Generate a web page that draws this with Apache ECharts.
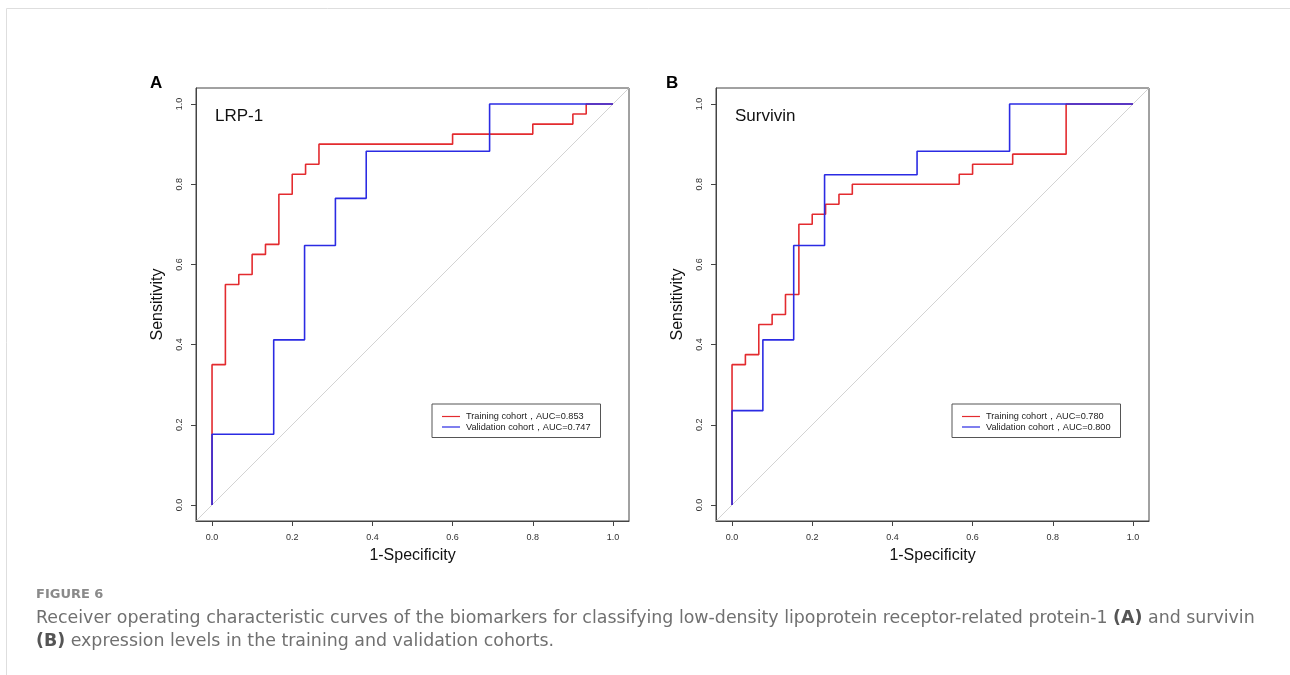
<!DOCTYPE html>
<html>
<head>
<meta charset="utf-8">
<title>Figure 6 ROC curves</title>
<script src="https://cdn.jsdelivr.net/npm/echarts@6/dist/echarts.min.js"></script>
<style>
  html, body { margin: 0; padding: 0; background: #fff; }
  #chart { width: 1290px; height: 675px; }
</style>
</head>
<body>
<div id="chart"></div>
<script>
// ROC points (1-specificity, sensitivity)
const lrpTrainFpr = [0, 0, 0.0333, 0.0667, 0.1, 0.1333, 0.1667, 0.2, 0.2333, 0.2667, 0.6, 0.8, 0.9, 0.9333, 1];
const lrpTrainTpr = [0, 0.35, 0.55, 0.575, 0.625, 0.65, 0.775, 0.825, 0.85, 0.9, 0.925, 0.95, 0.975, 1, 1];
const lrpValidFpr = [0, 0, 0.1538, 0.2308, 0.3077, 0.3846, 0.6923, 1];
const lrpValidTpr = [0, 0.1765, 0.4118, 0.6471, 0.7647, 0.8824, 1, 1];

const survTrainFpr = [0, 0, 0.0333, 0.0667, 0.1, 0.1333, 0.1667, 0.2, 0.2333, 0.2667, 0.3, 0.5667, 0.6, 0.7, 0.8333, 1];
const survTrainTpr = [0, 0.35, 0.375, 0.45, 0.475, 0.525, 0.7, 0.725, 0.75, 0.775, 0.8, 0.825, 0.85, 0.875, 1, 1];
const survValidFpr = [0, 0, 0.0769, 0.1538, 0.2308, 0.4615, 0.6923, 1];
const survValidTpr = [0, 0.2353, 0.4118, 0.6471, 0.8235, 0.8824, 1, 1];

const panelTitles = ['LRP-1', 'Survivin'];
const panelLetters = ['A', 'B'];
const trainNames = ['Training cohort，AUC=0.853', 'Training cohort，AUC=0.780'];
const validNames = ['Validation cohort，AUC=0.747', 'Validation cohort，AUC=0.800'];
const tickValues = [0, 0.2, 0.4, 0.6, 0.8, 1.0];
const axisRange = [-0.04, 1.04];

const RED = '#e32b2f';
const BLUE = '#2b2be3';
const FONT = 'Liberation Sans, Arial, sans-serif';
const CAPTION_FONT = 'DejaVu Sans, Open Sans, sans-serif';

function pairs(xs, ys) {
  return xs.map((x, i) => [x, ys[i]]);
}

const chart = echarts.init(document.getElementById('chart'));

const grids = [
  { left: 196, top: 88, width: 433, height: 433 },
  { left: 716, top: 88, width: 433, height: 433 }
];

function xAxisFor(i) {
  return {
    type: 'value', gridIndex: i, min: axisRange[0], max: axisRange[1],
    name: '1-Specificity', nameLocation: 'middle', nameGap: 27,
    nameTextStyle: { fontFamily: FONT, fontSize: 16, color: '#111' },
    axisLine: { show: true, onZero: false, lineStyle: { color: '#444', width: 1 } },
    axisTick: { show: true, inside: false, length: 5, customValues: tickValues, lineStyle: { color: '#444' } },
    axisLabel: { customValues: tickValues, margin: 12, fontFamily: FONT, fontSize: 9, color: '#333',
      formatter: v => v.toFixed(1) },
    splitLine: { show: false }
  };
}

function yAxisFor(i) {
  return {
    type: 'value', gridIndex: i, min: axisRange[0], max: axisRange[1],
    name: 'Sensitivity', nameLocation: 'middle', nameGap: 30, nameRotate: 90,
    nameTextStyle: { fontFamily: FONT, fontSize: 16, color: '#111' },
    axisLine: { show: true, onZero: false, lineStyle: { color: '#444', width: 1 } },
    axisTick: { show: true, inside: false, length: 5, customValues: tickValues, lineStyle: { color: '#444' } },
    axisLabel: { customValues: tickValues, margin: 12, rotate: 90, fontFamily: FONT, fontSize: 9, color: '#333',
      formatter: v => v.toFixed(1) },
    splitLine: { show: false }
  };
}

function curve(name, i, xs, ys, color) {
  return {
    name: name, type: 'line', xAxisIndex: i, yAxisIndex: i,
    data: pairs(xs, ys), step: 'end', symbol: 'none', animation: false,
    lineStyle: { color: color, width: 1.6 }, itemStyle: { color: color }
  };
}

function diagonal(i) {
  return {
    type: 'line', xAxisIndex: i, yAxisIndex: i, symbol: 'none', silent: true,
    data: pairs(axisRange, axisRange), animation: false,
    lineStyle: { color: '#c8c8c8', width: 0.8 }, z: 1
  };
}

function legendFor(i) {
  return {
    left: grids[i].left + 236, top: 404,
    orient: 'vertical', itemGap: 1.5, itemWidth: 18, itemHeight: 1.2,
    icon: 'rect',
    padding: [8, 10, 6, 10],
    borderColor: '#555', borderWidth: 1, borderRadius: 0,
    data: [trainNames[i], validNames[i]],
    textStyle: { fontFamily: FONT, fontSize: 9.2, color: '#222', padding: [0, 0, 0, 1] }
  };
}

const option = {
  backgroundColor: '#fff',
  animation: false,
  grid: grids.map(g => Object.assign({ show: true, borderColor: '#444', borderWidth: 1, containLabel: false }, g)),
  xAxis: [xAxisFor(0), xAxisFor(1)],
  yAxis: [yAxisFor(0), yAxisFor(1)],
  title: panelTitles.map((t, i) => ({
    text: t, left: grids[i].left + 14, top: 103,
    textStyle: { fontFamily: FONT, fontSize: 17, fontWeight: 'normal', color: '#111' }
  })),
  legend: [legendFor(0), legendFor(1)],
  series: [
    diagonal(0), diagonal(1),
    curve(trainNames[0], 0, lrpTrainFpr, lrpTrainTpr, RED),
    curve(validNames[0], 0, lrpValidFpr, lrpValidTpr, BLUE),
    curve(trainNames[1], 1, survTrainFpr, survTrainTpr, RED),
    curve(validNames[1], 1, survValidFpr, survValidTpr, BLUE)
  ],
  graphic: [
    { type: 'rect', shape: { x: 6.5, y: 8.5, width: 1300, height: 700 },
      style: { fill: 'none', stroke: '#dedede', lineWidth: 1 }, silent: true },
    { type: 'text', left: 150, top: 75, style: { text: panelLetters[0], fontFamily: FONT, fontSize: 17, fontWeight: 'bold', fill: '#000' } },
    { type: 'text', left: 666, top: 75, style: { text: panelLetters[1], fontFamily: FONT, fontSize: 17, fontWeight: 'bold', fill: '#000' } },
    { type: 'text', left: 36, top: 588, style: { text: 'FIGURE 6', fontFamily: CAPTION_FONT, fontSize: 13, fontWeight: 'bold', fill: '#8a8a8a' } },
    { type: 'text', left: 36, top: 607, style: {
      text: 'Receiver operating characteristic curves of the biomarkers for classifying low-density lipoprotein receptor-related protein-1 {b|(A)} and survivin\n{b|(B)} expression levels in the training and validation cohorts.',
      fontFamily: CAPTION_FONT, fontSize: 17.4, lineHeight: 23, fill: '#707070',
      rich: { b: { fontFamily: CAPTION_FONT, fontSize: 17.4, fontWeight: 'bold', fill: '#555', lineHeight: 23 } }
    } }
  ]
};

chart.setOption(option);
</script>
</body>
</html>
